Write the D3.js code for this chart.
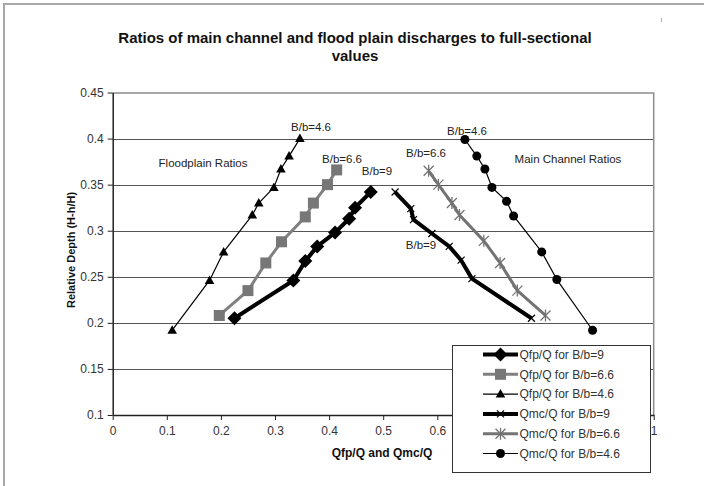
<!DOCTYPE html>
<html>
<head>
<meta charset="utf-8">
<script src="https://cdn.jsdelivr.net/npm/d3@7"></script>
<style>
  html, body { margin: 0; padding: 0; background: #fff; }
  svg { display: block; font-family: "Liberation Sans", Arial, sans-serif; }
</style>
</head>
<body>
<svg id="chart" width="704" height="486"></svg>
<script>
// Flood plain (Qfp/Q) and main channel (Qmc/Q) discharge ratios vs relative depth
const qfp9X   = [0.225, 0.334, 0.356, 0.378, 0.411, 0.437, 0.448, 0.477];
const qfp9Y   = [0.205, 0.246, 0.267, 0.283, 0.298, 0.313, 0.325, 0.342];
const qfp66X  = [0.197, 0.250, 0.283, 0.312, 0.356, 0.371, 0.397, 0.414];
const qfp66Y  = [0.208, 0.235, 0.265, 0.288, 0.315, 0.330, 0.350, 0.366];
const qfp46X  = [0.110, 0.179, 0.205, 0.258, 0.270, 0.298, 0.311, 0.326, 0.346];
const qfp46Y  = [0.192, 0.246, 0.277, 0.317, 0.330, 0.347, 0.367, 0.381, 0.400];
const qmc9X   = [0.774, 0.664, 0.644, 0.622, 0.590, 0.556, 0.551, 0.522];
const qmc9Y   = [0.205, 0.248, 0.268, 0.283, 0.297, 0.312, 0.324, 0.342];
const qmc66X  = [0.800, 0.748, 0.716, 0.686, 0.641, 0.627, 0.602, 0.584];
const qmc66Y  = [0.208, 0.235, 0.265, 0.289, 0.317, 0.330, 0.350, 0.365];
const qmc46X  = [0.887, 0.821, 0.793, 0.741, 0.728, 0.701, 0.688, 0.673, 0.651];
const qmc46Y  = [0.192, 0.247, 0.277, 0.316, 0.332, 0.347, 0.367, 0.381, 0.399];

const seriesNames = [
  "Qfp/Q for B/b=9", "Qfp/Q for B/b=6.6", "Qfp/Q for B/b=4.6",
  "Qmc/Q for B/b=9", "Qmc/Q for B/b=6.6", "Qmc/Q for B/b=4.6"
];
const xTicks = [0, 0.1, 0.2, 0.3, 0.4, 0.5, 0.6, 0.7, 0.8, 0.9, 1];
// tick labels that sit behind the legend box are left blank
const xTickLabels = ["0", "0.1", "0.2", "0.3", "0.4", "0.5", "0.6", "", "", "", "1"];
const yTicks = [0.1, 0.15, 0.2, 0.25, 0.3, 0.35, 0.4, 0.45];
const yTickLabels = ["0.1", "0.15", "0.2", "0.25", "0.3", "0.35", "0.4", "0.45"];

const titleLines = ["Ratios of main channel and flood plain discharges to full-sectional", "values"];
const xTitle = "Qfp/Q and Qmc/Q";
const yTitle = "Relative Depth (H-h/H)";

const svg = d3.select("#chart");

// outer chart frame
svg.append("rect").attr("x", 4).attr("y", 4).attr("width", 820).attr("height", 600)
  .attr("fill", "none").attr("stroke", "#a8a8a8").attr("stroke-width", 2);
svg.append("line").attr("x1", 661.5).attr("x2", 661.5).attr("y1", 18).attr("y2", 22)
  .attr("stroke", "#b0b0b0").attr("stroke-width", 1);

const plot = { left: 112.7, right: 653.7, top: 92.5, bottom: 415 };
const x = d3.scaleLinear().domain([0, 1]).range([plot.left, plot.right]);
const y = d3.scaleLinear().domain([0.1, 0.45]).range([plot.bottom, plot.top]);

// title
svg.append("text").attr("x", 355).attr("text-anchor", "middle")
  .attr("font-size", 15).attr("font-weight", "bold").attr("fill", "#111")
  .selectAll("tspan").data(titleLines).join("tspan")
  .attr("x", 355).attr("y", (d, i) => 42.5 + i * 18).text(d => d);

// horizontal gridlines
svg.append("g").selectAll("line").data(yTicks.slice(1, -1)).join("line")
  .attr("x1", plot.left).attr("x2", plot.right)
  .attr("y1", d => Math.round(y(d)) + 0.5).attr("y2", d => Math.round(y(d)) + 0.5)
  .attr("stroke", "#555").attr("stroke-width", 1);

// plot area border (top and right)
svg.append("path")
  .attr("d", `M${plot.left},${plot.top + 0.5}H${plot.right}V${plot.bottom}`)
  .attr("fill", "none").attr("stroke", "#8c8c8c").attr("stroke-width", 1.5);

// axes
const gx = svg.append("g").attr("transform", `translate(0,${plot.bottom})`)
  .call(d3.axisBottom(x).tickValues(xTicks).tickFormat((d, i) => xTickLabels[i])
    .tickSizeInner(5).tickSizeOuter(0).tickPadding(6));
const gy = svg.append("g").attr("transform", `translate(${plot.left},0)`)
  .call(d3.axisLeft(y).tickValues(yTicks).tickFormat((d, i) => yTickLabels[i])
    .tickSizeInner(5).tickSizeOuter(0).tickPadding(4));
[gx, gy].forEach(g => {
  g.select(".domain").attr("stroke", "#222").attr("stroke-width", 1.5);
  g.selectAll(".tick line").attr("stroke", "#222");
  g.selectAll(".tick text").attr("font-size", 12).attr("fill", "#333")
    .attr("font-family", '"Liberation Sans", Arial, sans-serif');
});

// axis titles
svg.append("text").attr("x", 382).attr("y", 457).attr("text-anchor", "middle")
  .attr("font-size", 12).attr("font-weight", "bold").attr("fill", "#111").text(xTitle);
svg.append("text").attr("transform", "translate(75,250) rotate(-90)").attr("text-anchor", "middle")
  .attr("font-size", 11).attr("font-weight", "bold").attr("fill", "#111").text(yTitle);

// series styling
const series = [
  { name: seriesNames[0], xs: qfp9X,  ys: qfp9Y,  color: "#000",    width: 4,   marker: "diamond" },
  { name: seriesNames[1], xs: qfp66X, ys: qfp66Y, color: "#808080", width: 3,   marker: "square" },
  { name: seriesNames[2], xs: qfp46X, ys: qfp46Y, color: "#000",    width: 1.2, marker: "triangle" },
  { name: seriesNames[3], xs: qmc9X,  ys: qmc9Y,  color: "#000",    width: 4,   marker: "cross" },
  { name: seriesNames[4], xs: qmc66X, ys: qmc66Y, color: "#737373", width: 3,   marker: "star" },
  { name: seriesNames[5], xs: qmc46X, ys: qmc46Y, color: "#000",    width: 1.2, marker: "circle" }
];

function drawMarker(g, type, color) {
  switch (type) {
    case "diamond":
      g.append("path").attr("d", "M0,-7L7,0L0,7L-7,0Z").attr("fill", color);
      break;
    case "square":
      g.append("rect").attr("x", -5.5).attr("y", -5.5).attr("width", 11).attr("height", 11).attr("fill", "#777");
      break;
    case "triangle":
      g.append("path").attr("d", "M0,-5L4.8,3.5L-4.8,3.5Z").attr("fill", color);
      break;
    case "cross":
      g.append("path").attr("d", "M-3.5,-3.5L3.5,3.5M-3.5,3.5L3.5,-3.5").attr("stroke", color).attr("stroke-width", 1.2);
      break;
    case "star":
      g.append("path").attr("d", "M-5,-5L5,5M-5,5L5,-5M0,-6L0,6").attr("stroke", color).attr("stroke-width", 1.3);
      break;
    case "circle":
      g.append("circle").attr("r", 4.5).attr("fill", color);
      break;
  }
}

const line = d3.line().x(d => x(d[0])).y(d => y(d[1]));
series.forEach(s => {
  const pts = s.xs.map((v, i) => [v, s.ys[i]]);
  const g = svg.append("g");
  g.append("path").datum(pts).attr("d", line).attr("fill", "none")
    .attr("stroke", s.color).attr("stroke-width", s.width).attr("stroke-linejoin", "round");
  pts.forEach(p => {
    drawMarker(g.append("g").attr("transform", `translate(${x(p[0])},${y(p[1])})`), s.marker, s.color);
  });
});

// annotations
const notes = [
  { t: "Floodplain Ratios",   x: 203, y: 166.5 },
  { t: "B/b=4.6",             x: 311, y: 131 },
  { t: "B/b=6.6",             x: 342, y: 163 },
  { t: "B/b=9",               x: 377, y: 175 },
  { t: "Main Channel Ratios", x: 568, y: 162.5 },
  { t: "B/b=4.6",             x: 467, y: 134.5 },
  { t: "B/b=6.6",             x: 426, y: 157 },
  { t: "B/b=9",               x: 421, y: 249 }
];
svg.append("g").selectAll("text").data(notes).join("text")
  .attr("x", d => d.x).attr("y", d => d.y).attr("text-anchor", "middle")
  .attr("font-size", 11.5).attr("fill", "#222").text(d => d.t);

// legend
const lg = svg.append("g");
lg.append("rect").attr("x", 452.5).attr("y", 345.5).attr("width", 198).attr("height", 127)
  .attr("fill", "#fff").attr("stroke", "#333").attr("stroke-width", 1);
series.forEach((s, i) => {
  const ry = 354.5 + i * 19.8;
  const row = lg.append("g");
  row.append("line").attr("x1", 483).attr("x2", 518).attr("y1", ry).attr("y2", ry)
    .attr("stroke", s.color).attr("stroke-width", s.width);
  drawMarker(row.append("g").attr("transform", `translate(500.5,${ry})`), s.marker, s.color);
  row.append("text").attr("x", 519.5).attr("y", ry + 4.2).attr("font-size", 12)
    .attr("fill", "#333").text(s.name);
});
</script>
</body>
</html>
